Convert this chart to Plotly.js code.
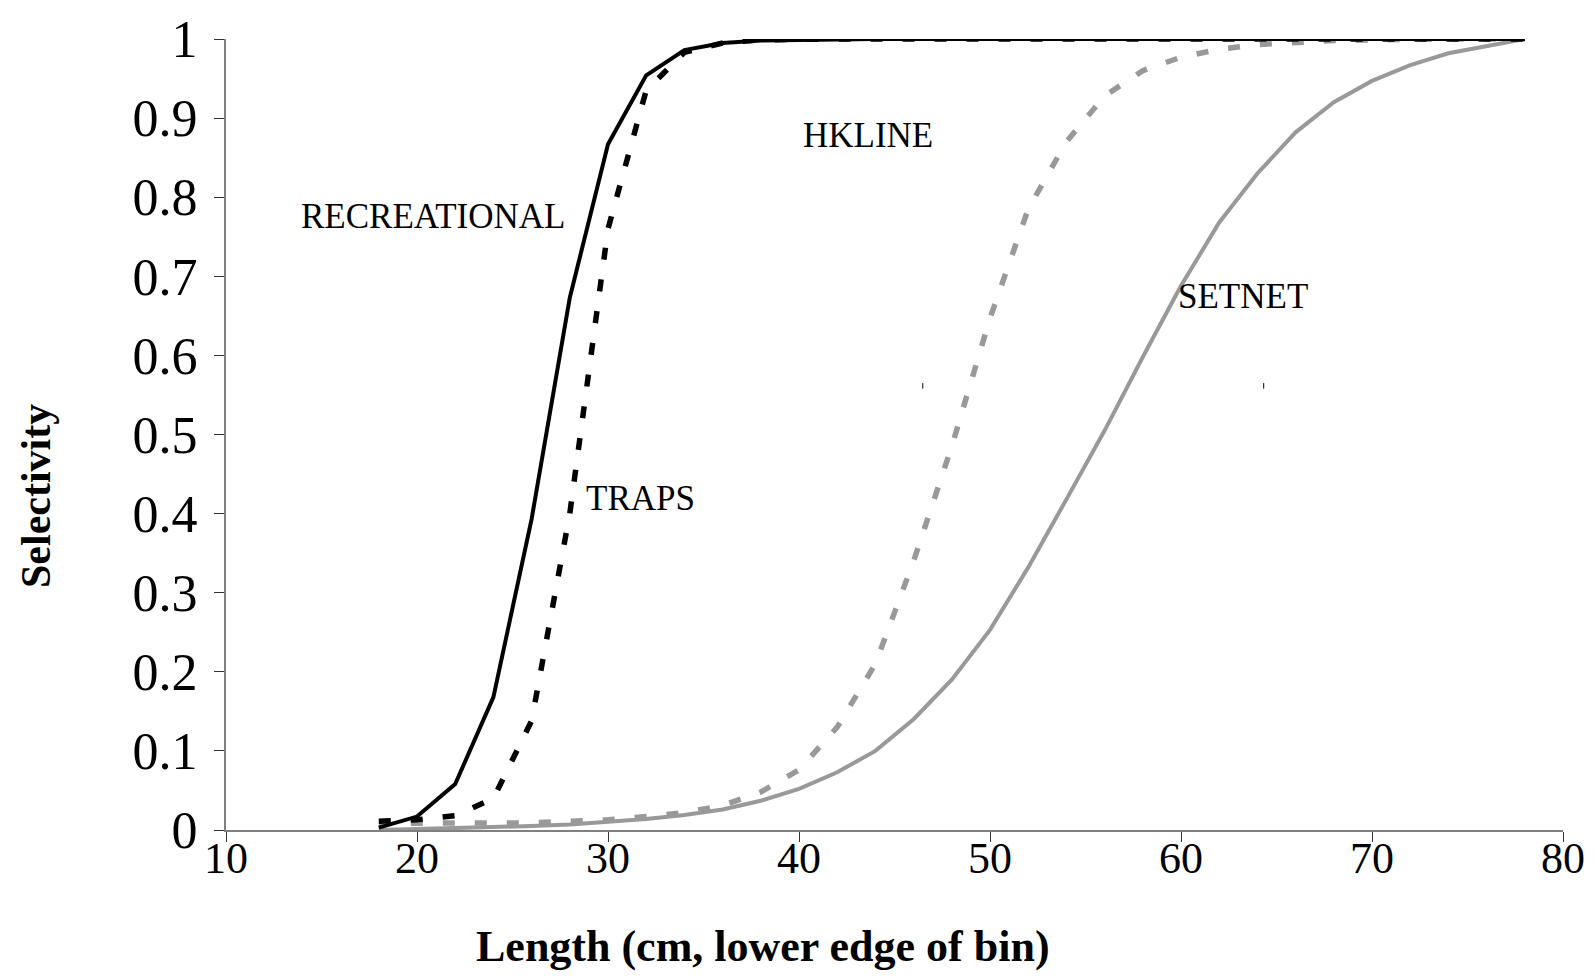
<!DOCTYPE html>
<html>
<head>
<meta charset="utf-8">
<script src="https://cdn.plot.ly/plotly-3.0.1.min.js"></script>
<style>html,body{margin:0;padding:0;background:#fff;}#chart{width:1595px;height:977px;}</style>
</head>
<body>
<div id="chart"></div>
<script>
const lengths = [18,20,22,24,26,28,30,32,34,36,38,40,42,44,46,48,50,52,54,56,58,60,62,64,66,68,70,72,74,76,78];
const recreational = [0.003,0.017,0.058,0.168,0.393,0.673,0.867,0.954,0.986,0.995,0.998,0.999,1,1,1,1,1,1,1,1,1,1,1,1,1,1,1,1,1,1,1];
const traps = [0.011,0.013,0.018,0.04,0.138,0.40,0.76,0.935,0.983,0.995,0.999,1,1,1,1,1,1,1,1,1,1,1,1,1,1,1,1,1,1,1,1];
const hkline = [0.008,0.009,0.009,0.009,0.009,0.011,0.013,0.017,0.022,0.031,0.048,0.076,0.13,0.21,0.34,0.485,0.647,0.785,0.87,0.928,0.96,0.977,0.987,0.993,0.996,0.998,0.999,1,1,1,1];
const setnet = [0.0,0.001,0.002,0.003,0.005,0.007,0.01,0.014,0.019,0.026,0.037,0.052,0.073,0.1,0.14,0.19,0.253,0.332,0.418,0.505,0.598,0.688,0.768,0.83,0.882,0.92,0.947,0.967,0.982,0.991,1];
const seriesLabels = ["RECREATIONAL","TRAPS","HKLINE","SETNET"];
const labelX = [20.83,31.69,43.62,63.26];
const labelY = [0.775,0.419,0.878,0.675];

const serif = "Liberation Serif, Times New Roman, serif";
const gray = "#999999";

const traces = [
  {x: lengths, y: setnet, mode: "lines", line: {color: gray, width: 4}, name: "SETNET"},
  {x: lengths, y: hkline, mode: "lines", line: {color: gray, width: 5.5, dash: "12px,20px"}, name: "HKLINE"},
  {x: lengths, y: recreational, mode: "lines", line: {color: "#000", width: 4}, name: "RECREATIONAL"},
  {x: lengths, y: traps, mode: "lines", line: {color: "#000", width: 5.5, dash: "12px,20px"}, name: "TRAPS"}
];

const W = 1595, H = 977, mL = 226, mR = 32, mT = 39, mB = 147;
const pw = W - mL - mR, ph = H - mT - mB;

const annotations = seriesLabels.map((t, i) => ({
  x: labelX[i], y: labelY[i], xref: "x", yref: "y", text: t, showarrow: false,
  font: {family: serif, size: 35, color: "#000"}, xanchor: "center", yanchor: "middle"
}));
annotations.push({
  x: (763 - mL) / pw, y: (H - 946 - mB) / ph, xref: "paper", yref: "paper",
  xanchor: "center", yanchor: "middle",
  text: "<b>Length (cm, lower edge of bin)</b>", showarrow: false,
  font: {family: serif, size: 44, color: "#000"}
});
annotations.push({
  x: (36 - mL) / pw, y: (H - 496 - mB) / ph, xref: "paper", yref: "paper",
  xanchor: "center", yanchor: "middle",
  text: "<b>Selectivity</b>", showarrow: false, textangle: -90,
  font: {family: serif, size: 42, color: "#000"}
});

const layout = {
  width: W, height: H,
  margin: {l: mL, r: mR, t: mT, b: mB, pad: 0},
  paper_bgcolor: "#fff", plot_bgcolor: "#fff",
  showlegend: false,
  xaxis: {
    range: [10, 80], dtick: 10, tick0: 10, showgrid: false, zeroline: false,
    showline: true, linecolor: "#808080", linewidth: 2,
    ticks: "outside", ticklen: 10, tickcolor: "#333", tickwidth: 1,
    tickfont: {family: serif, size: 44, color: "#000"}, ticklabelstandoff: -22
  },
  yaxis: {
    range: [0, 1], dtick: 0.1, tick0: 0, showgrid: false, zeroline: false,
    showline: true, linecolor: "#808080", linewidth: 2,
    ticks: "outside", ticklen: 10, tickcolor: "#333", tickwidth: 1,
    tickfont: {family: serif, size: 52, color: "#000"}, ticklabelstandoff: 6
  },
  annotations: annotations,
  shapes: [
    {type: "line", xref: "x", yref: "y", x0: 46.48, x1: 46.48, y0: 0.558, y1: 0.565, line: {color: "#000", width: 1}},
    {type: "line", xref: "x", yref: "y", x0: 64.33, x1: 64.33, y0: 0.558, y1: 0.565, line: {color: "#000", width: 1}}
  ]
};

Plotly.newPlot("chart", traces, layout, {displayModeBar: false, staticPlot: true});
</script>
</body>
</html>
